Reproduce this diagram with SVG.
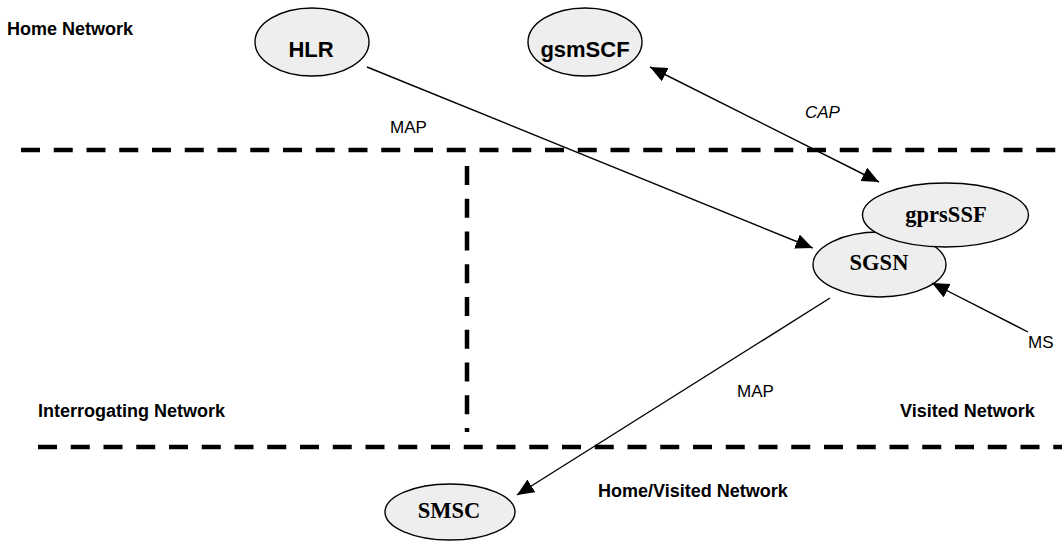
<svg xmlns="http://www.w3.org/2000/svg" width="1062" height="542" viewBox="0 0 1062 542">
<style>
.bd{stroke:#000;stroke-width:4.5;stroke-dasharray:19 13.75;fill:none}
.node{fill:#eeeeee;stroke:#000;stroke-width:1.4}
.lbl-a{font-family:"Liberation Sans",Arial,sans-serif;font-weight:bold;font-size:22px;text-anchor:middle;fill:#000}
.lbl-t{font-family:"Liberation Serif","Times New Roman",serif;font-weight:bold;font-size:22.5px;text-anchor:middle;fill:#000}
.conn{stroke:#000;stroke-width:1.4;fill:none}
.region{font-family:"Liberation Sans",Arial,sans-serif;font-weight:bold;font-size:18px;fill:#000}
.plabel{font-family:"Liberation Sans",Arial,sans-serif;font-size:17px;fill:#000}
</style>
<defs>
<marker id="arr" markerUnits="userSpaceOnUse" markerWidth="18" markerHeight="16" refX="17" refY="7.5" orient="auto-start-reverse">
<path d="M0,0 L17,7.5 L0,15 z" fill="#000"/>
</marker>
</defs>
<g id="boundaries">
<line class="bd" x1="21" y1="150" x2="1062" y2="150"/>
<line class="bd" x1="38" y1="447" x2="1062" y2="447"/>
<line class="bd" x1="467" y1="166" x2="467" y2="432"/>
</g>
<g id="region-labels">
<text class="region" x="7" y="35">Home Network</text>
<text class="region" x="38" y="417">Interrogating Network</text>
<text class="region" x="900" y="417">Visited Network</text>
<text class="region" x="598" y="497">Home/Visited Network</text>
</g>
<g id="node-HLR">
<ellipse class="node" cx="312" cy="42" rx="57" ry="34"/>
<text class="lbl-a" x="311" y="57">HLR</text>
</g>
<g id="node-gsmSCF">
<ellipse class="node" cx="585" cy="42" rx="57" ry="34"/>
<text class="lbl-a" x="585" y="57">gsmSCF</text>
</g>
<g id="node-SGSN">
<ellipse class="node" cx="879.5" cy="264.5" rx="66.5" ry="32.5"/>
<text class="lbl-t" x="879" y="270">SGSN</text>
</g>
<g id="node-gprsSSF">
<ellipse class="node" cx="945.5" cy="215" rx="83" ry="32"/>
<text class="lbl-t" x="946" y="222">gprsSSF</text>
</g>
<g id="node-SMSC">
<ellipse class="node" cx="450" cy="512" rx="65" ry="28"/>
<text class="lbl-t" x="449" y="518">SMSC</text>
</g>
<g id="connectors">
<line class="conn" x1="367" y1="67" x2="812.7" y2="248" marker-end="url(#arr)"/>
<line class="conn" x1="650" y1="67" x2="879" y2="182" marker-start="url(#arr)" marker-end="url(#arr)"/>
<line class="conn" x1="1028" y1="332" x2="932" y2="283" marker-end="url(#arr)"/>
<line class="conn" x1="830" y1="298" x2="517" y2="495" marker-end="url(#arr)"/>
</g>
<g id="connector-labels">
<text class="plabel" x="390" y="133">MAP</text>
<text class="plabel" x="805" y="118" font-style="italic">CAP</text>
<text class="plabel" x="1028" y="348">MS</text>
<text class="plabel" x="737" y="397">MAP</text>
</g>
</svg>
